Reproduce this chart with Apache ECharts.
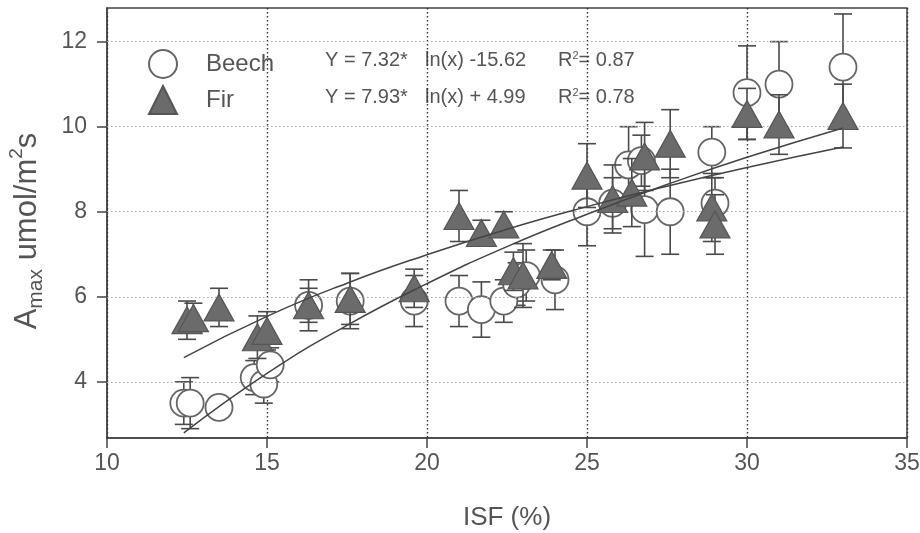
<!DOCTYPE html>
<html>
<head>
<meta charset="utf-8">
<script src="https://cdn.jsdelivr.net/npm/echarts@6/dist/echarts.min.js"></script>
<style>
html,body{margin:0;padding:0;background:#fff;}
#chart{width:920px;height:533px;}
</style>
</head>
<body>
<div id="chart"></div>
<script>
// Beech (circles)
const beechX   = [12.4, 12.6, 13.5, 14.6, 14.9, 15.1, 16.3, 17.6, 19.6, 21.0, 21.7, 22.4, 22.8, 23.1, 24.0, 25.0, 25.8, 26.3, 26.7, 26.8, 27.6, 28.9, 29.0, 30.0, 31.0, 33.0];
const beechY   = [3.5, 3.5, 3.4, 4.1, 3.95, 4.4, 5.8, 5.9, 5.9, 5.9, 5.7, 5.9, 6.3, 6.5, 6.4, 8.0, 8.2, 9.1, 9.2, 8.05, 8.0, 9.4, 8.2, 10.8, 11.0, 11.4];
const beechErr = [0.5, 0.6, 0, 0.4, 0.45, 0.4, 0.4, 0.65, 0.6, 0.6, 0.65, 0.5, 0.5, 0.6, 0.7, 0.8, 0.6, 0.9, 0.6, 1.1, 1.0, 0.6, 0.6, 1.1, 1.0, 1.25];
// Fir (triangles)
const firX   = [12.5, 12.7, 13.5, 14.7, 15.0, 16.3, 17.6, 19.6, 21.0, 21.7, 22.4, 22.7, 23.0, 23.9, 25.0, 25.8, 26.4, 26.8, 27.6, 28.9, 29.0, 30.0, 31.0, 33.0];
const firY   = [5.45, 5.5, 5.75, 5.05, 5.2, 5.8, 5.95, 6.2, 7.9, 7.5, 7.7, 6.6, 6.5, 6.75, 8.85, 8.3, 8.45, 9.3, 9.6, 8.1, 7.7, 10.3, 10.05, 10.25];
const firErr = [0.45, 0.35, 0.45, 0.5, 0.45, 0.6, 0.6, 0.45, 0.6, 0.3, 0.3, 0.45, 0.75, 0.35, 0.75, 0.8, 0.8, 0.8, 0.8, 0.8, 0.7, 0.6, 0.7, 0.75];
// Regression curves
const fitX      = [12.4, 15, 17.5, 20, 22.5, 25, 27.5, 30, 33];
const beechFitY = [2.80, 4.20, 5.33, 6.31, 7.18, 7.94, 8.64, 9.28, 9.97];
const firFitY   = [4.57, 5.54, 6.32, 6.99, 7.59, 8.12, 8.60, 9.04, 9.52];
// Axes
const xTicks = [10, 15, 20, 25, 30, 35];
const yTicks = [4, 6, 8, 10, 12];
const eqBeech = ['Y = 7.32*', 'ln(x) -15.62', 'R{sup|2}= 0.87'];
const eqFir   = ['Y = 7.93*', 'ln(x) + 4.99', 'R{sup|2}= 0.78'];

const TXT = '#555';
const AX = '#444';

function pts(xs, ys){ return xs.map((x,i)=>[x, ys[i]]); }
function errData(xs, ys, es){ return xs.map((x,i)=>[x, ys[i]-es[i], ys[i]+es[i]]); }

function errRender(params, api){
  const x = api.value(0), lo = api.value(1), hi = api.value(2);
  if (hi - lo <= 0) return null;
  const pLo = api.coord([x, lo]);
  const pHi = api.coord([x, hi]);
  const hw = 9;
  const st = {stroke: '#4a4a4a', lineWidth: 1.6};
  return {type:'group', children:[
    {type:'line', shape:{x1:pLo[0], y1:pLo[1], x2:pHi[0], y2:pHi[1]}, style:st},
    {type:'line', shape:{x1:pLo[0]-hw, y1:pLo[1], x2:pLo[0]+hw, y2:pLo[1]}, style:st},
    {type:'line', shape:{x1:pHi[0]-hw, y1:pHi[1], x2:pHi[0]+hw, y2:pHi[1]}, style:st}
  ]};
}

const chart = echarts.init(document.getElementById('chart'), null, {renderer:'canvas'});
const fontFam = '"Liberation Sans", Arial, sans-serif';

function eqGraphic(parts, top){
  return [
    {type:'text', left:325, top:top, style:{text:parts[0], fill:TXT, font:'20px ' + fontFam}},
    {type:'text', left:425, top:top, style:{text:parts[1], fill:TXT, font:'20px ' + fontFam}},
    {type:'text', left:558, top:top, style:{text:parts[2], fill:TXT, font:'20px ' + fontFam,
      rich:{sup:{fontSize:11, verticalAlign:'top', lineHeight:20, fill:TXT, fontFamily:fontFam}}}}
  ];
}

chart.setOption({
  animation:false,
  textStyle:{fontFamily:fontFam},
  grid:{left:107, right:13, top:8, bottom:95, show:true, borderColor:AX, borderWidth:1.5,
        backgroundColor:'transparent', outerBoundsMode:'none', containLabel:false},
  legend:{
    orient:'vertical', left:143, top:44, itemWidth:28, itemHeight:28, itemGap:6,
    textStyle:{fontSize:24, color:TXT, padding:[0,0,0,24]},
    data:[{name:'Beech'}, {name:'Fir'}]
  },
  xAxis:{
    type:'value', min:10, max:35, interval:5,
    name:'ISF (%)', nameLocation:'middle', nameGap:67,
    nameTextStyle:{fontSize:26, color:TXT},
    axisLine:{show:true, lineStyle:{color:AX, width:1.5}},
    axisTick:{show:true, length:10, lineStyle:{color:AX, width:1.5}},
    axisLabel:{fontSize:23, color:TXT, margin:14},
    splitLine:{show:true, lineStyle:{color:'#333', type:[1.5,2.5], width:1.4}}
  },
  yAxis:{
    type:'value', min:2.68, max:12.79,
    name:'{a|A}{sub|max}{a| umol/m}{sup|2}{a|s}', nameLocation:'middle', nameGap:60, nameRotate:90,
    nameTextStyle:{color:TXT, padding:[0,16,0,0], rich:{
      a:{fontSize:31, color:TXT, lineHeight:40, verticalAlign:'middle'},
      sub:{fontSize:21, color:TXT, lineHeight:40, verticalAlign:'bottom'},
      sup:{fontSize:19, color:TXT, lineHeight:40, verticalAlign:'top'}
    }},
    axisLine:{show:true, lineStyle:{color:AX, width:1.5}},
    axisTick:{show:true, length:10, customValues:yTicks, lineStyle:{color:AX, width:1.5}},
    axisLabel:{fontSize:23, color:TXT, margin:20, customValues:yTicks},
    splitLine:{show:false}
  },
  graphic: eqGraphic(eqBeech, 50).concat(eqGraphic(eqFir, 87)),
  series:[
    {
      type:'line', name:'gridY', data:[], silent:true,
      markLine:{silent:true, symbol:'none', label:{show:false},
        lineStyle:{color:'#aaa', type:[1.5,2.5], width:1.2},
        data: yTicks.map(v=>({yAxis:v}))}
    },
    {type:'custom', name:'BeechErr', renderItem:errRender, data:errData(beechX, beechY, beechErr), z:3, silent:true},
    {type:'scatter', name:'Beech', data:pts(beechX, beechY), symbol:'circle', symbolSize:27, z:4,
      itemStyle:{color:'#fff', borderColor:'#666', borderWidth:1.8, opacity:1}},
    {type:'custom', name:'FirErr', renderItem:errRender, data:errData(firX, firY, firErr), z:5, silent:true},
    {type:'scatter', name:'Fir', data:pts(firX, firY), symbol:'triangle', symbolSize:[30,27], z:6,
      itemStyle:{color:'#6b6b6b', borderColor:'#555', borderWidth:1.2, opacity:1}},
    {type:'line', name:'beechFit', data:pts(fitX, beechFitY), smooth:true, showSymbol:false, z:7, silent:true,
      lineStyle:{color:'#444', width:1.5}},
    {type:'line', name:'firFit', data:pts(fitX, firFitY), smooth:true, showSymbol:false, z:7, silent:true,
      lineStyle:{color:'#444', width:1.5}}
  ]
});
</script>
</body>
</html>
